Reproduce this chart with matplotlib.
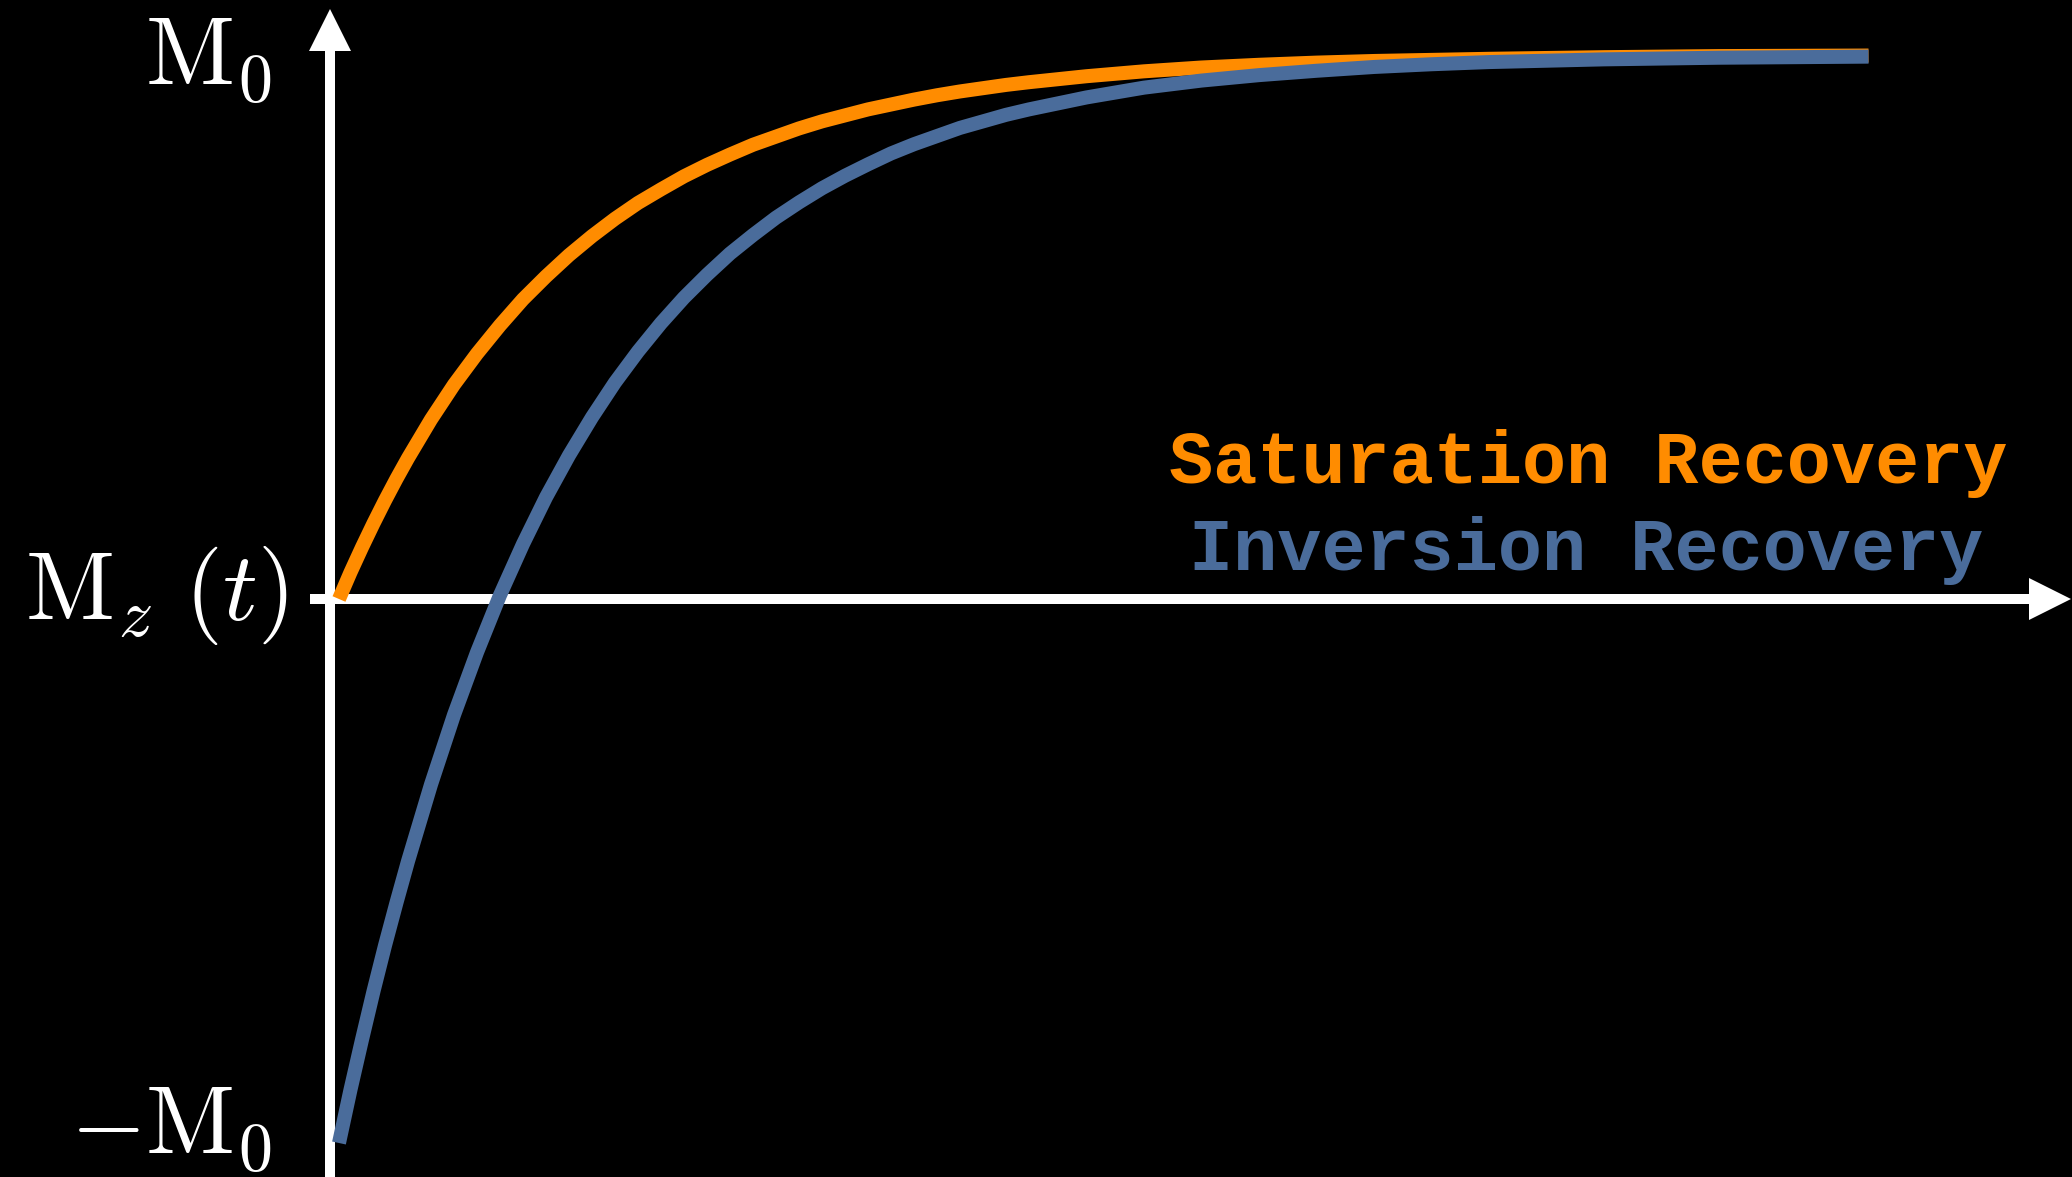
import matplotlib
matplotlib.use("Agg")
import matplotlib.pyplot as plt

# ---- data (time in units of T1, magnetisation in units of M0) ----
t = [0, 0.05, 0.1, 0.15, 0.2, 0.25, 0.3, 0.4, 0.5, 0.6, 0.7, 0.8, 0.9, 1.0,
     1.1, 1.2, 1.3, 1.4, 1.5, 1.6, 1.7, 1.8, 1.9, 2.0, 2.1, 2.2, 2.3, 2.4,
     2.5, 2.6, 2.7, 2.8, 2.9, 3.0, 3.25, 3.5, 3.75, 4.0, 4.25, 4.5, 4.75,
     5.0, 5.5, 6.0, 6.65]
saturation = [0, 0.049, 0.095, 0.139, 0.181, 0.221, 0.259, 0.330, 0.394, 0.451,
              0.503, 0.551, 0.593, 0.632, 0.667, 0.699, 0.728, 0.753, 0.777,
              0.798, 0.817, 0.835, 0.850, 0.865, 0.878, 0.889, 0.900, 0.909,
              0.918, 0.926, 0.933, 0.939, 0.945, 0.950, 0.961, 0.970, 0.977,
              0.982, 0.986, 0.989, 0.991, 0.993, 0.996, 0.998, 0.999]
inversion = [-1, -0.902, -0.810, -0.721, -0.637, -0.558, -0.482, -0.341, -0.213,
             -0.098, 0.007, 0.101, 0.187, 0.264, 0.334, 0.398, 0.455, 0.507,
             0.554, 0.596, 0.635, 0.669, 0.701, 0.729, 0.755, 0.778, 0.799,
             0.819, 0.836, 0.851, 0.866, 0.878, 0.890, 0.900, 0.922, 0.940,
             0.953, 0.963, 0.971, 0.978, 0.983, 0.987, 0.992, 0.995, 0.997]
series_labels = ["Saturation Recovery", "Inversion Recovery"]
y_labels = [r"$\mathrm{M}_0$", r"$\mathrm{M}_z\ (t)$", r"$-\mathrm{M}_0$"]

ORANGE = "#FF8C00"
BLUE = "#4A6C9B"

plt.rcParams["mathtext.fontset"] = "cm"

W, H = 2072, 1177
fig = plt.figure(figsize=(W / 100, H / 100), dpi=100, facecolor="black")
ax = fig.add_axes([0, 0, 1, 1])
ax.set_facecolor("black")
ax.axis("off")

# pixel mapping
X0, PX_PER_T = 339, 230.0
Y0, PX_PER_M = 599, 544.0


def px2data(px, py):
    return (px - X0) / PX_PER_T, (Y0 - py) / PX_PER_M


xl0, yb = px2data(0, H)
xl1, yt = px2data(W, 0)
ax.set_xlim(xl0, xl1)
ax.set_ylim(yb, yt)

# axes with arrows (sizes in pixels converted to data units per direction)
shaft = 10
head_w = 42
head_l = 42
xs, _ = px2data(310, Y0)
xe, _ = px2data(2071, Y0)
ax.arrow(xs, 0, xe - xs, 0, width=shaft / PX_PER_M, head_width=head_w / PX_PER_M,
         head_length=head_l / PX_PER_T, length_includes_head=True,
         color="white", lw=0, zorder=3)
yx, ybot = px2data(330, 1200)
_, ytop = px2data(330, 9)
ax.arrow(yx, ybot, 0, ytop - ybot, width=shaft / PX_PER_T,
         head_width=head_w / PX_PER_T, head_length=head_l / PX_PER_M,
         length_includes_head=True, color="white", lw=0, zorder=3, clip_on=False)

# curves
ax.plot(t, saturation, color=ORANGE, lw=10.1, solid_capstyle="butt",
        solid_joinstyle="round", zorder=4)
ax.plot(t, inversion, color=BLUE, lw=10.1, solid_capstyle="butt",
        solid_joinstyle="round", zorder=5)

# y labels
fs_math = 70
for lab, (px, py) in zip(y_labels, [(272, 86), (288, 620), (272, 1155)]):
    x, y = px2data(px, py)
    ax.text(x, y, lab, color="white", fontsize=fs_math, ha="right", va="baseline")

# legend text
for lab, col, (px, py) in zip(series_labels, [ORANGE, BLUE], [(2007, 483), (1983, 570)]):
    x, y = px2data(px, py)
    ax.text(x, y, lab, color=col, fontsize=53, family="Liberation Mono",
            fontweight="bold", ha="right", va="baseline")

fig.savefig("out.png", dpi=100, facecolor="black")
